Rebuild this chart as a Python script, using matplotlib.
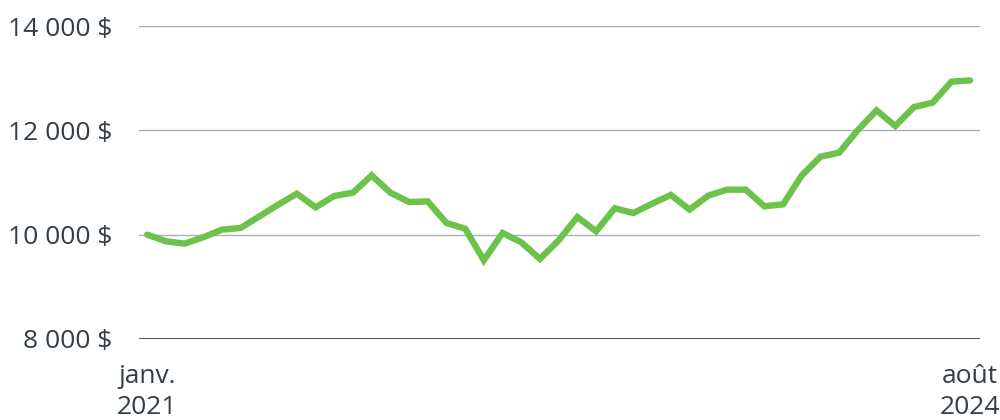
import matplotlib.pyplot as plt
import numpy as np

plt.rcParams["font.family"] = ["Open Sans", "DejaVu Sans"]

# valeur d'un placement de 10 000 $, fin de mois
values = [
    10000, 9872, 9828, 9950, 10096, 10128, 10351, 10575, 10786, 10523,
    10741, 10805, 11137, 10805, 10626, 10637, 10224, 10115, 9508, 10032,
    9853, 9534, 9890, 10338, 10064, 10505, 10415, 10594, 10761, 10480,
    10748, 10863, 10863, 10543, 10581, 11137, 11495, 11572, 12006, 12383,
    12083, 12447, 12531, 12933, 12958,
]
x_labels = ["janv.\n2021", "août\n2024"]
y_ticks = [8000, 10000, 12000, 14000]

text_color = "#333f48"
line_color = "#6cc24a"
grid_color = "#a9b0bb"

months = np.arange(len(values))

fig = plt.figure(figsize=(10, 4.2), dpi=100)
ax = fig.add_axes([0.139, 0.193, 0.841, 0.745])

for yt in y_ticks[1:]:
    ax.axhline(yt, color=grid_color, lw=1.0, zorder=1)
ax.axhline(y_ticks[0], color="#2b3640", lw=1.2, zorder=1)

ax.plot(months, values, color=line_color, lw=4.6, solid_joinstyle="miter",
        solid_capstyle="round", zorder=3)

ax.set_xlim(-0.44, len(values) - 1 + 0.53)
ax.set_ylim(y_ticks[0], y_ticks[-1])

ax.set_yticks(y_ticks)
ax.set_yticklabels(["{:,} $".format(v).replace(",", " ") for v in y_ticks])
ax.set_xticks([0, len(values) - 1])
ax.set_xticklabels(x_labels, linespacing=1.3)

ax.tick_params("y", length=0, pad=19, labelsize=19, labelcolor=text_color)
ax.tick_params("x", length=0, pad=18, labelsize=19, labelcolor=text_color)

for s in ax.spines.values():
    s.set_visible(False)

fig.savefig("out.png", dpi=100)
plt.close("all")
